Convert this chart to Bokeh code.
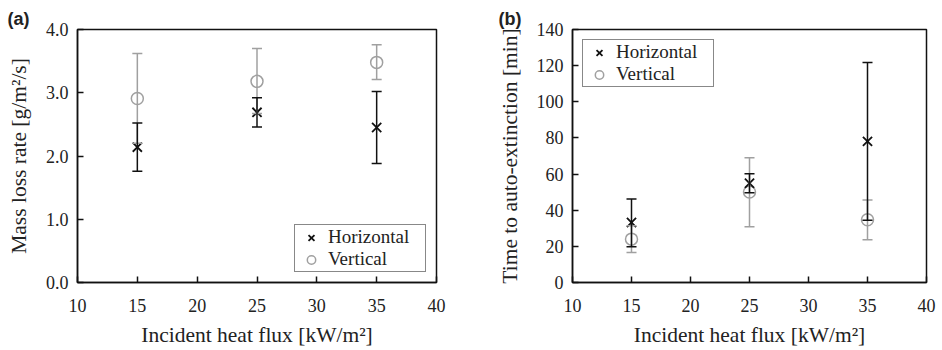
from bokeh.plotting import figure
from bokeh.layouts import row
from bokeh.models import (ColumnDataSource, Whisker, TeeHead, Legend, LegendItem,
                          FixedTicker, Range1d)
from bokeh.embed import file_html
from bokeh.resources import INLINE

# ---- data ----
flux = [15, 25, 35]
x_ticks = [10, 15, 20, 25, 30, 35, 40]

# (a) mass loss rate [g/m2/s]
mlr_h = [2.14, 2.69, 2.45]
mlr_h_upper = [2.52, 2.92, 3.02]
mlr_h_lower = [1.76, 2.46, 1.88]
mlr_v = [2.91, 3.18, 3.48]
mlr_v_upper = [3.62, 3.70, 3.76]
mlr_v_lower = [2.20, 2.67, 3.21]
mlr_ticks = [0, 1, 2, 3, 4]

# (b) time to auto-extinction [min]
tae_h = [33.2, 54.9, 78.1]
tae_h_upper = [46.2, 60.2, 121.7]
tae_h_lower = [19.8, 49.6, 34.5]
tae_v = [24.0, 50.1, 34.7]
tae_v_upper = [31.4, 69.1, 45.6]
tae_v_lower = [16.6, 30.8, 23.6]
tae_ticks = [0, 20, 40, 60, 80, 100, 120, 140]

BLACK = "#111111"
GRAY = "#a0a0a0"
SERIF = "'Liberation Serif', 'Times New Roman', serif"
TXT = "#222222"


def make_panel(width, height, borders, y_end, y_ticks, y_label, y_fmt,
               h, h_up, h_lo, v, v_up, v_lo, legend_loc, tag, tag_dx):
    p = figure(width=width, height=height, output_backend="svg", toolbar_location=None,
               x_range=Range1d(10, 40), y_range=Range1d(0, y_end),
               min_border_left=borders[0], min_border_right=borders[1],
               min_border_top=borders[2], min_border_bottom=borders[3])
    p.grid.visible = False
    p.outline_line_color = BLACK
    p.outline_line_width = 1.5
    p.background_fill_color = "white"
    p.border_fill_color = "white"

    p.title.text = tag
    p.title.align = "left"
    p.title.offset = tag_dx
    p.title.standoff = 2
    p.title.text_font = "'Liberation Sans', Arial, sans-serif"
    p.title.text_font_style = "bold"
    p.title.text_font_size = "18px"
    p.title.text_color = TXT

    for ax in (p.xaxis[0], p.yaxis[0]):
        ax.major_tick_in = 6
        ax.major_tick_out = 0
        ax.minor_tick_line_color = None
        ax.axis_line_color = BLACK
        ax.axis_line_width = 1.5
        ax.major_tick_line_color = BLACK
        ax.major_tick_line_width = 1.5
        ax.major_label_text_font = SERIF
        ax.major_label_text_font_size = "18px"
        ax.major_label_text_color = TXT
        ax.axis_label_text_font = SERIF
        ax.axis_label_text_font_size = "21.5px"
        ax.axis_label_text_font_style = "normal"
        ax.axis_label_text_color = TXT

    p.xaxis.ticker = FixedTicker(ticks=x_ticks)
    p.yaxis.ticker = FixedTicker(ticks=y_ticks)
    p.yaxis.major_label_overrides = {t: (y_fmt.format(t)) for t in y_ticks}
    p.xaxis.axis_label = "Incident heat flux [kW/m\u00b2]"
    p.yaxis.axis_label = y_label
    p.xaxis.major_label_standoff = 16
    p.xaxis.axis_label_standoff = 8
    p.yaxis.major_label_standoff = 9
    p.yaxis.axis_label_standoff = 12

    sh = ColumnDataSource(dict(x=flux, y=h, upper=h_up, lower=h_lo))
    sv = ColumnDataSource(dict(x=flux, y=v, upper=v_up, lower=v_lo))

    for src, col in ((sv, GRAY), (sh, BLACK)):
        w = Whisker(source=src, base="x", upper="upper", lower="lower",
                    line_color=col, line_width=1.5, level="glyph",
                    upper_head=TeeHead(size=10, line_color=col, line_width=1.5),
                    lower_head=TeeHead(size=10, line_color=col, line_width=1.5))
        p.add_layout(w)

    rv = p.scatter("x", "y", source=sv, marker="circle", size=12,
                   fill_color="white", line_color=GRAY, line_width=1.5)
    rh = p.scatter("x", "y", source=sh, marker="x", size=13,
                   line_color=BLACK, line_width=1.8)

    leg = Legend(items=[LegendItem(label="Horizontal", renderers=[rh]),
                        LegendItem(label="Vertical", renderers=[rv])],
                 location=legend_loc, margin=10, padding=1, spacing=0,
                 glyph_width=30, glyph_height=21, label_height=21,
                 label_width=96, label_standoff=2,
                 label_text_font=SERIF, label_text_font_size="19px",
                 label_text_color=TXT,
                 border_line_color=BLACK, border_line_width=1.5,
                 background_fill_color="white", background_fill_alpha=1.0)
    p.add_layout(leg)
    return p


pa = make_panel(470, 350, (77, 34, 28, 68), 4, mlr_ticks,
                "Mass loss rate [g/m\u00b2/s]", "{:.1f}",
                mlr_h, mlr_h_upper, mlr_h_lower, mlr_v, mlr_v_upper, mlr_v_lower,
                "bottom_right", "(a)", -70)
pb = make_panel(472, 350, (102, 16, 29, 68), 140, tae_ticks,
                "Time to auto-extinction [min]", "{:d}",
                tae_h, tae_h_upper, tae_h_lower, tae_v, tae_v_upper, tae_v_lower,
                "top_left", "(b)", -74)

layout = row(pa, pb)
open("out.html", "w").write(file_html(layout, INLINE))
